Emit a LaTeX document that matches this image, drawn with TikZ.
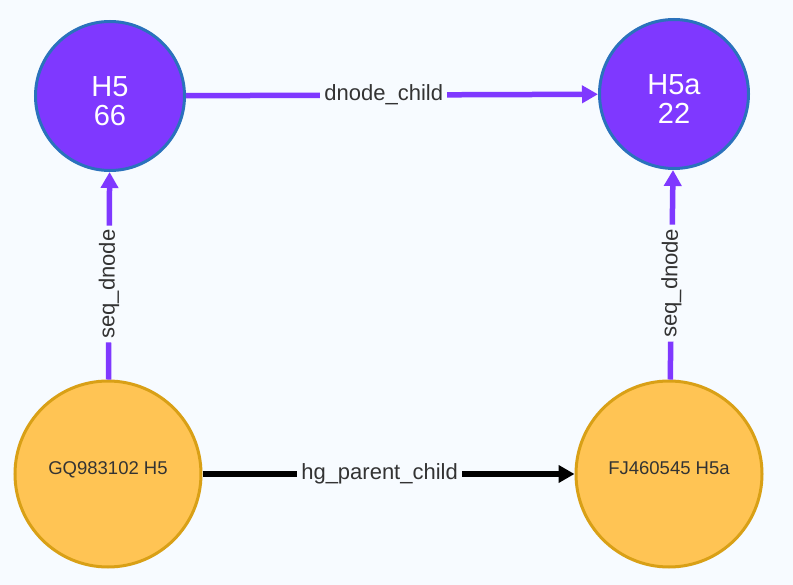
\documentclass[tikz,border=0pt]{standalone}
\usepackage{fontspec}
\setmainfont{Liberation Sans}
\usepackage{tikz}
\usetikzlibrary{
arrows.meta,
}

\definecolor{bgpage}{HTML}{F7FBFF}
\definecolor{dnodefill}{HTML}{7F38FF}
\definecolor{dnodeborder}{HTML}{2A72BC}
\definecolor{seqfill}{HTML}{FFC454}
\definecolor{seqborder}{HTML}{D9A016}
\definecolor{edgepurple}{HTML}{7F38FF}
\definecolor{textgray}{HTML}{333333}

\newcommand{\dlabel}[2]{\raisebox{-1pt}[0pt][0pt]{\begin{tabular}[t]{@{}c@{}}#1\\#2\end{tabular}}}
\newcommand{\slabel}[1]{\raisebox{0pt}[0pt][0pt]{#1}}

\tikzset{
dnode/.style={circle, draw=dnodeborder, fill=dnodefill, line width=3pt, minimum size=149pt, inner sep=0pt, text=white, font=\fontsize{29}{28.5}\selectfont},
seqnode/.style={circle, draw=seqborder, fill=seqfill, line width=3pt, minimum size=186pt, inner sep=0pt, text=textgray, font=\fontsize{18.5}{20}\selectfont},
rel/.style={line width=5.5pt, -{Triangle[length=16pt,width=17pt]}},
rellabel/.style={fill=bgpage, text=textgray, inner sep=4pt, font=\fontsize{22}{24}\selectfont},
}

\begin{document}
\begin{tikzpicture}[x=1pt,y=-1pt]
		\fill[bgpage] (0,0) rectangle (793,585);
		\useasboundingbox (0,0) rectangle (793,585);

		\node[dnode] (H5) at (110,96) {\dlabel{H5}{66}};
		\node[dnode] (H5a) at (674,94) {\dlabel{H5a}{22}};
		\node[seqnode] (GQ) at (108,474) {\slabel{GQ983102 H5}};
		\node[seqnode] (FJ) at (669,474) {\slabel{FJ460545 H5a}};

		% relations
		\draw[rel, draw=edgepurple] (H5) -- node[rellabel, pos=.48]{dnode\_child} (H5a);
		\draw[rel, draw=edgepurple] (GQ) -- node[rellabel, sloped, pos=.46]{seq\_dnode} (H5);
		\draw[rel, draw=edgepurple] (FJ) -- node[rellabel, sloped, pos=.46]{seq\_dnode} (H5a);
		\draw[rel, draw=black] (GQ) -- node[rellabel, pos=.476]{hg\_parent\_child} (FJ);
	\end{tikzpicture}
\end{document}
